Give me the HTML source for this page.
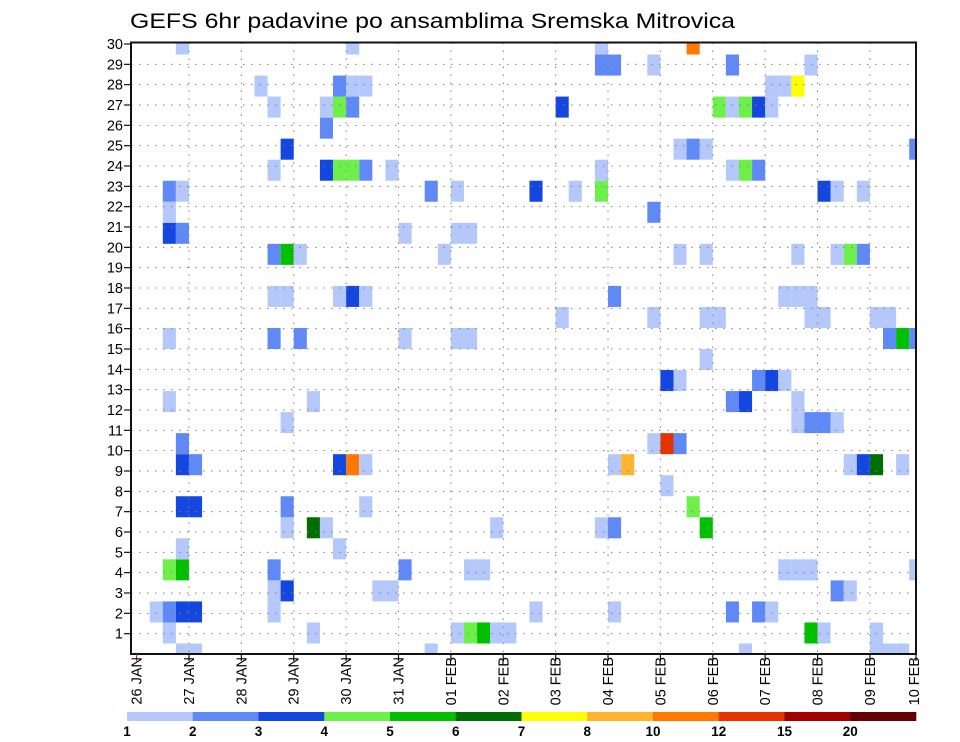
<!DOCTYPE html>
<html><head><meta charset="utf-8"><title>GEFS 6hr padavine</title>
<style>
html,body{margin:0;padding:0;background:#fff;}
svg{display:block;font-family:"Liberation Sans",sans-serif;}
</style></head>
<body>
<svg id="chart" width="960" height="742" viewBox="0 0 960 742" xmlns="http://www.w3.org/2000/svg">
<text x="130" y="28" font-size="21" textLength="605" lengthAdjust="spacingAndGlyphs" fill="#000">GEFS 6hr padavine po ansamblima Sremska Mitrovica</text>
<g id="cells"></g>
<g id="grid"></g>
<g id="axes"></g>
<g id="cbar"></g>
</svg>
<script>
// ---- data ----
const dayLabels = ["26 JAN","27 JAN","28 JAN","29 JAN","30 JAN","31 JAN","01 FEB","02 FEB","03 FEB","04 FEB","05 FEB","06 FEB","07 FEB","08 FEB","09 FEB","10 FEB"];
const yTickLabels = [1,2,3,4,5,6,7,8,9,10,11,12,13,14,15,16,17,18,19,20,21,22,23,24,25,26,27,28,29,30];
const levels = [1,2,3,4,5,6,7,8,10,12,15,20];
const levelColors = ["#b4c8fb","#6089f8","#1446e0","#6ef04a","#00c000","#006e00","#ffff00","#ffb42e","#ff7800","#e63200","#a50000","#640000"];
// 6-hour step index for each cell
const steps = [
3,4,22,46,56,57,58,
2,13,24,25,26,27,28,51,52,56,
1,2,3,4,10,30,36,45,47,48,
10,11,18,19,53,54,
2,3,10,20,25,26,49,50,51,59,
3,15,
11,13,14,27,35,36,43,
3,4,11,17,42,
40,
3,4,15,16,17,36,37,54,55,56,58,
3,39,40,41,
11,50,51,52,53,
2,13,45,46,50,
40,41,47,48,49,
43,
2,10,12,20,24,25,57,58,59,
32,39,43,44,51,52,56,57,
10,11,15,16,17,36,49,50,51,
10,11,12,23,41,43,50,53,54,55,
2,3,20,24,25,
2,39,
2,3,22,24,30,33,35,52,53,55,
10,14,15,16,17,19,35,45,46,47,
11,41,42,43,59,
14,
10,14,15,16,32,44,45,46,47,48,
9,15,16,17,48,49,50,
35,36,39,45,51,
3,16,35,42
];
// ensemble member band index for each cell
const members = [
0,0,0,0,0,0,0,
1,1,1,1,1,1,1,1,1,1,
2,2,2,2,2,2,2,2,2,2,
3,3,3,3,3,3,
4,4,4,4,4,4,4,4,4,4,
5,5,
6,6,6,6,6,6,6,
7,7,7,7,7,
8,
9,9,9,9,9,9,9,9,9,9,9,
10,10,10,10,
11,11,11,11,11,
12,12,12,12,12,
13,13,13,13,13,
14,
15,15,15,15,15,15,15,15,15,
16,16,16,16,16,16,16,16,
17,17,17,17,17,17,17,17,17,
19,19,19,19,19,19,19,19,19,19,
20,20,20,20,20,
21,21,
22,22,22,22,22,22,22,22,22,22,
23,23,23,23,23,23,23,23,23,23,
24,24,24,24,24,
25,
26,26,26,26,26,26,26,26,26,26,
27,27,27,27,27,27,27,
28,28,28,28,28,
29,29,29,29
];
// 6hr precipitation (mm) for each cell
const precip = [
1.5,1.5,1.5,1.5,1.5,1.5,1.5,
1.5,1.5,1.5,4.5,5.5,1.5,1.5,5.5,1.5,1.5,
1.5,2.5,3.5,3.5,1.5,1.5,1.5,2.5,2.5,1.5,
1.5,3.5,1.5,1.5,2.5,1.5,
4.5,5.5,2.5,2.5,1.5,1.5,1.5,1.5,1.5,1.5,
1.5,1.5,
1.5,6.5,1.5,1.5,1.5,2.5,5.5,
3.5,3.5,2.5,1.5,4.5,
1.5,
3.5,2.5,3.5,11,1.5,1.5,9,1.5,3.5,6.5,1.5,
2.5,1.5,13.5,2.5,
1.5,1.5,2.5,2.5,1.5,
1.5,1.5,2.5,3.5,1.5,
3.5,1.5,2.5,3.5,1.5,
1.5,
1.5,2.5,2.5,1.5,1.5,1.5,2.5,5.5,2.5,
1.5,1.5,1.5,1.5,1.5,1.5,1.5,1.5,
1.5,1.5,1.5,3.5,1.5,2.5,1.5,1.5,1.5,
2.5,5.5,1.5,1.5,1.5,1.5,1.5,1.5,4.5,2.5,
3.5,2.5,1.5,1.5,1.5,
1.5,2.5,
2.5,1.5,2.5,1.5,3.5,1.5,4.5,3.5,1.5,1.5,
1.5,3.5,4.5,4.5,2.5,1.5,1.5,1.5,4.5,2.5,
3.5,1.5,2.5,1.5,2.5,
2.5,
1.5,1.5,4.5,2.5,3.5,4.5,1.5,4.5,3.5,1.5,
1.5,2.5,1.5,1.5,1.5,1.5,7.5,
2.5,2.5,1.5,2.5,1.5,
1.5,1.5,1.5,11
];

// ---- scales ----
const NS = "http://www.w3.org/2000/svg";
const PL = 131, PR = 916, PT = 42.5, PB = 654;
const X0 = 136.6, DAY = 52.38;
function xScale(hours){ return X0 + hours / 24 * DAY; }
const BAND = (PB - 44) / 29;
function yBand(m){ return PB - m * BAND; }
function yTick(t){ return PB - t * (PB - 44) / 30; }
function colorFor(v){
  let idx = 0;
  for (let i = 0; i < levels.length; i++) if (v >= levels[i]) idx = i;
  return levelColors[idx];
}
function mk(tag, attrs, parent){
  const e = document.createElementNS(NS, tag);
  for (const k in attrs) e.setAttribute(k, attrs[k]);
  parent.appendChild(e);
  return e;
}

// ---- cells ----
const cellsG = document.getElementById("cells");
for (let i = 0; i < steps.length; i++) {
  const x1 = xScale(steps[i] * 6), x2 = Math.min(xScale(steps[i] * 6 + 6), PR);
  let y1 = yBand(members[i]) - BAND / 2, y2 = yBand(members[i]) + BAND / 2;
  y1 = Math.max(y1, PT); y2 = Math.min(y2, PB);
  const r = mk("rect", {x: x1.toFixed(2), y: y1.toFixed(2), width: (x2 - x1).toFixed(2), height: (y2 - y1).toFixed(2), fill: colorFor(precip[i])}, cellsG);
  
  
}

// ---- grid ----
const gridG = document.getElementById("grid");
for (let t = 1; t < 30; t++) {
  const y = yTick(t);
  const l = mk("line", {x1: PL, x2: PR, y1: y, y2: y, stroke: "#808080", "stroke-width": 1, "stroke-dasharray": "1.5 6.5"}, gridG);
  
  
}
for (let d = 1; d < 15; d++) {
  const x = xScale(d * 24);
  const l = mk("line", {x1: x, x2: x, y1: PT, y2: PB, stroke: "#808080", "stroke-width": 1, "stroke-dasharray": "1.5 6.5"}, gridG);
  
  
}

// ---- axes ----
const axG = document.getElementById("axes");
const box = mk("rect", {x: PL, y: PT, width: PR - PL, height: PB - PT, fill: "none", stroke: "#111", "stroke-width": 2}, axG);


for (let i = 0; i < yTickLabels.length; i++) {
  const t = yTickLabels[i], y = yTick(t);
  const tk = mk("line", {x1: PL - 7, x2: PL, y1: y, y2: y, stroke: "#111", "stroke-width": 1.2}, axG);
  
  
  const tx = mk("text", {x: PL - 8, y: y + 5, "font-size": 14.5, "text-anchor": "end", fill: "#000"}, axG);
  tx.textContent = t;
  
  
}
for (let d = 0; d < dayLabels.length; d++) {
  let x = xScale(d * 24);
  if (x > PR) x = PR;
  const tk = mk("line", {x1: x, x2: x, y1: PB, y2: PB + 7, stroke: d === 0 ? "#c03030" : "#111", "stroke-width": 1.2}, axG);
  
  
  const lx = Math.min(x, 914) + 5;
  const tx = mk("text", {x: 0, y: 0, "font-size": 14.5, "text-anchor": "end", fill: "#000", transform: "translate(" + lx.toFixed(1) + ",657) rotate(-90)"}, axG);
  tx.textContent = dayLabels[d];
  
  
}

// ---- color bar ----
const cbG = document.getElementById("cbar");
const CB0 = 127, CB1 = 916, segW = (CB1 - CB0) / levelColors.length;
for (let i = 0; i < levelColors.length; i++) {
  const r = mk("rect", {x: (CB0 + i * segW).toFixed(2), y: 712, width: (segW + 0.3).toFixed(2), height: 9, fill: levelColors[i]}, cbG);
  
  
  const tx = mk("text", {x: (CB0 + i * segW).toFixed(2), y: 736, "font-size": 13.5, "font-weight": "bold", "text-anchor": "middle", fill: "#000"}, cbG);
  tx.textContent = levels[i];
  
  
}
</script>
</body></html>
